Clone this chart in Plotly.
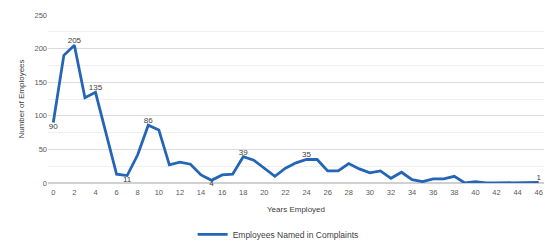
import plotly.graph_objects as go

years = list(range(0, 47))
employees = [90, 190, 205, 127, 135, 76, 13, 11, 42, 86,
             79, 27, 31, 28, 12, 4, 12, 13, 39, 34,
             22, 10, 22, 30, 35, 35, 18, 18, 29, 21,
             15, 18, 7, 16, 5, 2, 6, 6, 10, 0,
             2, 0, 0, 0, 0, 0, 1]
label_years = [0, 2, 4, 7, 9, 15, 18, 24, 46]
label_pos = {0: "bottom center", 2: "top center", 4: "top center", 7: "bottom center",
             9: "top center", 15: "bottom center", 18: "top center", 24: "top center",
             46: "top center"}

texts = [str(v) if y in label_years else "" for y, v in zip(years, employees)]
positions = [label_pos.get(y, "top center") for y in years]

fig = go.Figure()
fig.add_trace(go.Scatter(
    x=years, y=employees, mode="lines+text",
    name="Employees Named in Complaints",
    line=dict(color="#2466b5", width=2.8),
    text=texts, textposition=positions,
    textfont=dict(size=8, color="#404040"),
    cliponaxis=False,
))

fig.update_layout(
    width=545, height=242,
    margin=dict(l=48, r=1, t=15, b=59, autoexpand=False),
    paper_bgcolor="white", plot_bgcolor="white",
    font=dict(family="Liberation Sans, Arial, sans-serif", size=7, color="#595959"),
    showlegend=True,
    legend=dict(orientation="h", x=0.464, xanchor="center", y=-0.22, yanchor="top",
                font=dict(size=8.5, color="#404040"), itemwidth=30,
                bgcolor="rgba(0,0,0,0)"),
    xaxis=dict(range=[-0.5, 46.5], tickmode="array", tickvals=list(range(0, 47, 2)),
               showgrid=False, zeroline=False, showline=False, ticks="",
               ticklabelstandoff=3,
               title=dict(text="Years Employed", font=dict(size=8, color="#404040"), standoff=10),
               tickfont=dict(size=7.5, color="#595959")),
    yaxis=dict(range=[0, 250], tickmode="array", tickvals=[0, 50, 100, 150, 200, 250],
               showgrid=True, gridcolor="#dcdcdc", gridwidth=1,
               minor=dict(dtick=25, showgrid=True, gridcolor="#efefef", gridwidth=1),
               zeroline=True, zerolinecolor="#d0d0d0", showline=False, ticks="",
               ticksuffix="   ",
               title=dict(text="Number of Employees", font=dict(size=8, color="#404040"), standoff=8),
               tickfont=dict(size=7.5, color="#595959")),
)

fig.write_html("out.html", config={"displayModeBar": False},
               post_script="document.body.style.margin='0';")
